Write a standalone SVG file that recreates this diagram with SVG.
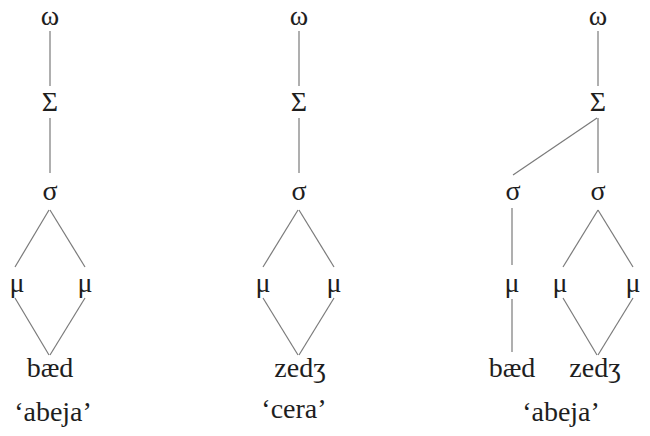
<svg xmlns="http://www.w3.org/2000/svg" width="650" height="436" viewBox="0 0 650 436">
<style>
text{font-family:'Liberation Serif','Times New Roman',serif;font-size:28px;fill:#1e1e1e;text-anchor:middle}
line{stroke:#7a7a7a;stroke-width:1.2}
</style>
<rect width="650" height="436" fill="#fff"/>
<g id="connectors">
<line x1="50" y1="31" x2="50" y2="86"/>
<line x1="50" y1="118" x2="50" y2="173"/>
<line x1="49" y1="210" x2="15" y2="267"/>
<line x1="50" y1="210" x2="85" y2="267"/>
<line x1="15" y1="298" x2="49" y2="355"/>
<line x1="85" y1="298" x2="50" y2="355"/>
<line x1="299" y1="31" x2="299" y2="86"/>
<line x1="299" y1="118" x2="299" y2="173"/>
<line x1="298" y1="210" x2="263" y2="267"/>
<line x1="299" y1="210" x2="334" y2="267"/>
<line x1="263" y1="298" x2="298" y2="355"/>
<line x1="334" y1="298" x2="299" y2="355"/>
<line x1="598" y1="31" x2="598" y2="86"/>
<line x1="597" y1="118" x2="513" y2="175"/>
<line x1="598" y1="118" x2="598" y2="173"/>
<line x1="512" y1="208" x2="512" y2="265"/>
<line x1="512" y1="299" x2="512" y2="352"/>
<line x1="598" y1="210" x2="563" y2="267"/>
<line x1="598" y1="210" x2="633" y2="267"/>
<line x1="563" y1="298" x2="597" y2="355"/>
<line x1="633" y1="298" x2="598" y2="355"/>
</g>
<g id="tree1">
<g id="t1-omega"><text x="50" y="25">ω</text></g>
<g id="t1-Sigma"><text x="50" y="111">Σ</text></g>
<g id="t1-sigma"><text x="50" y="200">σ</text></g>
<g id="t1-mu1"><text x="17" y="292">μ</text></g>
<g id="t1-mu2"><text x="85" y="292">μ</text></g>
<g id="t1-word"><text x="50" y="377">bæd</text></g>
<g id="t1-gloss"><text x="53" y="421">‘abeja’</text></g>
</g>
<g id="tree2">
<g id="t2-omega"><text x="299" y="25">ω</text></g>
<g id="t2-Sigma"><text x="299" y="111">Σ</text></g>
<g id="t2-sigma"><text x="299" y="200">σ</text></g>
<g id="t2-mu1"><text x="263" y="292">μ</text></g>
<g id="t2-mu2"><text x="334" y="292">μ</text></g>
<g id="t2-word"><text x="300" y="377">zedʒ</text></g>
<g id="t2-gloss"><text x="294" y="418">‘cera’</text></g>
</g>
<g id="tree3">
<g id="t3-omega"><text x="598" y="25">ω</text></g>
<g id="t3-Sigma"><text x="598" y="111">Σ</text></g>
<g id="t3-sigma1"><text x="513" y="200">σ</text></g>
<g id="t3-sigma2"><text x="598" y="200">σ</text></g>
<g id="t3-mu1"><text x="512" y="292">μ</text></g>
<g id="t3-mu2"><text x="560" y="292">μ</text></g>
<g id="t3-mu3"><text x="633" y="292">μ</text></g>
<g id="t3-word1"><text x="512" y="377">bæd</text></g>
<g id="t3-word2"><text x="595" y="377">zedʒ</text></g>
<g id="t3-gloss"><text x="561" y="421">‘abeja’</text></g>
</g>
</svg>
